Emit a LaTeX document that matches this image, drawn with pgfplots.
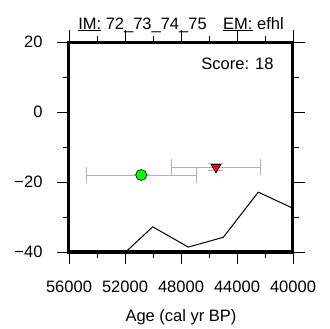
\documentclass[border=0pt]{standalone}
\usepackage{pgfplots}
\pgfplotsset{compat=1.18}
\usepackage{fontspec}
\setmainfont{Liberation Sans}
\begin{document}
\begin{tikzpicture}[font=\fontsize{16.5bp}{20bp}\selectfont]
\useasboundingbox (0,0) rectangle (330bp,329bp);
\begin{axis}[
  at={(69bp,77bp)}, anchor=south west,
  scale only axis, width=224bp, height=210bp,
  x dir=reverse, xmin=40000, xmax=56000, ymin=-40, ymax=20,
  scaled x ticks=false,
  xtick={40000,44000,48000,52000,56000},
  xticklabels={40000,44000,48000,52000,56000},
  minor x tick num=1,
  ytick={-40,-20,0,20},
  yticklabels={−40,−20,0,20},
  minor y tick num=1,
  tick align=outside, major tick length=12bp, minor tick length=6bp,
  tick style={black, line width=0.8bp},
  axis line style={line width=3bp},
  xtick pos=both, ytick pos=both,
  xticklabel pos=bottom, yticklabel pos=left,
  xticklabel style={yshift=-13bp},
  yticklabel style={xshift=-11bp},
  xlabel={Age (cal yr BP)},
  xlabel style={yshift=-11bp},
  title={\underline{IM:} 72\_73\_74\_75\quad\underline{EM:} efhl},
  clip=true,
]
\addplot[black, line width=1bp] coordinates {
  (51950,-40) (50020,-32.8) (47480,-38.6) (44980,-35.8) (42480,-22.9) (40000,-27.5)
};
% x error bars
\addplot[draw=none, mark=none,
  error bars/.cd, x dir=both, x explicit,
  error bar style={color=gray!60, line width=0.9bp},
  error mark=|,
  error mark options={mark size=8bp, color=gray!60, line width=0.9bp}]
  coordinates {(50840,-18.0) +- (3916,0) (45500,-15.8) +- (3166,0)};
% y error bars
\addplot[draw=none, mark=none,
  error bars/.cd, y dir=both, y explicit,
  error bar style={color=gray!60, line width=0.9bp},
  error mark=|,
  error mark options={mark size=7.5bp, color=gray!60, line width=0.9bp}]
  coordinates {(50840,-18.0) +- (0,0.2) (45500,-15.8) +- (0,1.0)};
\addplot[only marks, mark=*, mark size=5.5bp,
  mark options={fill=green, draw=black, line width=0.6bp}]
  coordinates {(50840,-18.0)};
\addplot[only marks, mark=triangle*, mark size=5.7bp,
  mark options={rotate=180, fill=red, draw=black, line width=0.6bp}]
  coordinates {(45500,-15.8)};
\node[anchor=base east] at (axis description cs:0.929,0.867) {Score: 18};
\end{axis}
\end{tikzpicture}
\end{document}
